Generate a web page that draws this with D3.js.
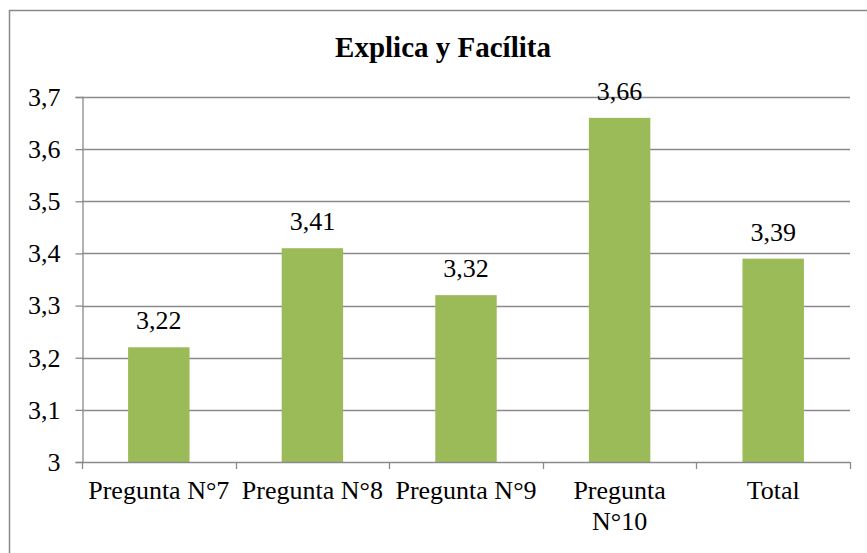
<!DOCTYPE html>
<html>
<head>
<meta charset="utf-8">
<script src="https://cdn.jsdelivr.net/npm/d3@7"></script>
<style>
  body { margin: 0; background: #fff; }
  svg text { font-family: "Liberation Serif", "Times New Roman", serif; fill: #000; }
</style>
</head>
<body>
<script>
// data
var categories = ["Pregunta N°7", "Pregunta N°8", "Pregunta N°9", "Pregunta N°10", "Total"];
var values = [3.22, 3.41, 3.32, 3.66, 3.39];
var yTicks = [3, 3.1, 3.2, 3.3, 3.4, 3.5, 3.6, 3.7];
var title = "Explica y Facílita";

var width = 867,
    height = 553;

var margin = {left: 82, right: 17, top: 97, bottom: 91};
var fontSize = "26px";

var svg = d3.select("body").append("svg")
    .attr("width", width)
    .attr("height", height);

// chart border (runs past the cropped edge on right and bottom)
svg.append("rect")
    .attr("x", 9.5)
    .attr("y", 10.5)
    .attr("width", 868)
    .attr("height", 560)
    .style("fill", "none")
    .style("stroke", "#898989")
    .style("stroke-width", "1.5px");

svg.append("text")
    .attr("x", 443)
    .attr("y", 57)
    .attr("text-anchor", "middle")
    .style("font-weight", "bold")
    .style("font-size", "29px")
    .text(title);

var x = d3.scaleBand()
    .domain(categories)
    .range([margin.left, width - margin.right])
    .paddingInner(0.6)
    .paddingOuter(0.3);

var y = d3.scaleLinear()
    .domain([3, 3.7])
    .range([height - margin.bottom, margin.top]);

var fmt = function(d) { return d3.format(".1f")(d).replace(".", ",").replace(",0", ""); };

// gridlines
svg.append("g")
    .selectAll("line")
    .data(yTicks.slice(1))
    .enter().append("line")
    .attr("x1", margin.left)
    .attr("x2", width - margin.right)
    .attr("y1", function(d) { return Math.round(y(d)) + 0.5; })
    .attr("y2", function(d) { return Math.round(y(d)) + 0.5; })
    .style("stroke", "#8a8a8a")
    .style("stroke-width", "1.3px");

// bars
svg.append("g")
    .selectAll("rect")
    .data(values)
    .enter().append("rect")
    .attr("x", function(d, i) { return x(categories[i]); })
    .attr("width", x.bandwidth())
    .attr("y", function(d) { return y(d); })
    .attr("height", function(d) { return y(3) - y(d); })
    .style("fill", "#9bbb59");

// value labels
svg.append("g")
    .selectAll("text")
    .data(values)
    .enter().append("text")
    .attr("x", function(d, i) { return x(categories[i]) + x.bandwidth() / 2; })
    .attr("y", function(d) { return y(d) - 18; })
    .attr("text-anchor", "middle")
    .style("font-size", fontSize)
    .text(function(d) { return d3.format(".2f")(d).replace(".", ","); });

// y axis
var yAxis = svg.append("g")
    .attr("transform", "translate(" + (margin.left + 0.5) + ",0)")
    .call(d3.axisLeft(y).tickValues(yTicks).tickSize(7).tickPadding(15).tickFormat(fmt));

yAxis.attr("font-family", null).attr("font-size", null);
yAxis.selectAll("text").style("font-size", fontSize);
yAxis.selectAll("line, path").style("stroke", "#8a8a8a").style("stroke-width", "1.3px");

// x axis with ticks between categories
var step = x.step();
var bounds = d3.range(categories.length + 1).map(function(i) { return margin.left + i * step; });
var xAxis = svg.append("g");
xAxis.append("line")
    .attr("x1", margin.left)
    .attr("x2", width - margin.right)
    .attr("y1", y(3) + 0.5)
    .attr("y2", y(3) + 0.5)
    .style("stroke", "#8a8a8a")
    .style("stroke-width", "1.3px");
xAxis.selectAll(".tick")
    .data(bounds)
    .enter().append("line")
    .attr("x1", function(d) { return Math.round(d) + 0.5; })
    .attr("x2", function(d) { return Math.round(d) + 0.5; })
    .attr("y1", y(3))
    .attr("y2", y(3) + 7)
    .style("stroke", "#8a8a8a")
    .style("stroke-width", "1.3px");

var labels = xAxis.selectAll(".lab")
    .data(categories)
    .enter().append("text")
    .attr("x", function(d) { return x(d) + x.bandwidth() / 2; })
    .attr("y", y(3) + 37)
    .attr("text-anchor", "middle")
    .style("font-size", fontSize);

labels.each(function(d) {
    var t = d3.select(this);
    var lines = d === "Pregunta N°10" ? ["Pregunta", "N°10"] : [d];
    lines.forEach(function(l, i) {
        t.append("tspan")
            .attr("x", t.attr("x"))
            .attr("dy", i === 0 ? 0 : 31)
            .text(l);
    });
});
</script>
</body>
</html>
